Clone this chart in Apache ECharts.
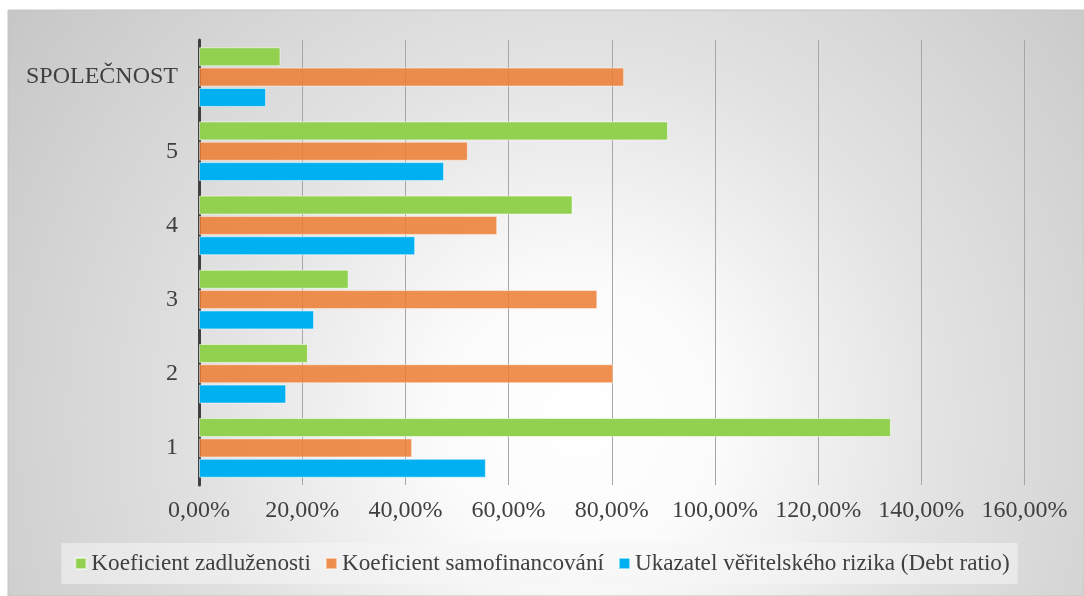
<!DOCTYPE html>
<html>
<head>
<meta charset="utf-8">
<script src="https://cdn.jsdelivr.net/npm/echarts@6/dist/echarts.min.js"></script>
<style>
  html, body { margin: 0; padding: 0; background: #fff; }
  #chart { width: 1084px; height: 596px; }
</style>
</head>
<body>
<div id="chart"></div>
<script>
const categories = ["1", "2", "3", "4", "5", "SPOLEČNOST"];
const seriesNames = [
   "Koeficient zadluženosti",
   "Koeficient samofinancování",
   "Ukazatel věřitelského rizika (Debt ratio)",
];
const zadluzenost = [134.1, 21.1, 29.0, 72.4, 90.9, 15.8];
const samofinancovani = [41.3, 80.3, 77.2, 57.8, 52.1, 82.4];
const debtRatio = [55.6, 16.9, 22.3, 41.9, 47.5, 13.0];
const xTicks = { min: 0, max: 160, interval: 20 };

const font = "'Liberation Serif', 'Times New Roman', serif";
const textColor = "#404040";

function pct(v) {
   return v.toFixed(2).replace(".", ",") + "%";
}

function barSeries(name, data, color, opacity) {
   return {
      name: name,
      type: "bar",
      data: data,
      barWidth: 19,
      barGap: "7%",
      itemStyle: {
         color: color,
         opacity: opacity,
         borderColor: "rgba(255,255,255,0.55)",
         borderWidth: 1,
      },
   };
}

const chart = echarts.init(document.getElementById("chart"));

chart.setOption({
   animation: false,
   graphic: [
      {
         type: "rect",
         z: -10,
         shape: { x: 8, y: 10, width: 1076, height: 586 },
         style: {
            fill: new echarts.graphic.RadialGradient(0.53, 0.7, 1.2, [
               { offset: 0, color: "#ffffff" },
               { offset: 0.2, color: "#fbfbfb" },
               { offset: 0.52, color: "#e2e2e2" },
               { offset: 1, color: "#c6c6c6" },
            ]),
            stroke: "#c4c4c4",
            lineWidth: 1,
         },
      },
   ],
   grid: {
      left: 199,
      right: 59.5,
      top: 40,
      bottom: 111,
   },
   legend: {
      data: seriesNames,
      left: "center",
      top: 543,
      icon: "rect",
      itemWidth: 11,
      itemHeight: 11,
      itemGap: 14,
      padding: [9, 8, 9, 13],
      backgroundColor: "rgba(245,245,245,0.55)",
      textStyle: { fontFamily: font, fontSize: 23.2, color: textColor },
   },
   xAxis: {
      type: "value",
      min: xTicks.min,
      max: xTicks.max,
      interval: xTicks.interval,
      axisLine: { show: false },
      axisTick: { show: false },
      axisLabel: {
         formatter: pct,
         fontFamily: font,
         fontSize: 24,
         color: textColor,
         margin: 14,
      },
      splitLine: { lineStyle: { color: "#a6a6a6", width: 1 } },
   },
   yAxis: {
      type: "category",
      data: categories,
      axisLine: { show: true, lineStyle: { color: "#404040", width: 3 } },
      axisTick: { show: false },
      axisLabel: {
         fontFamily: font,
         fontSize: 24,
         color: textColor,
         margin: 21,
      },
   },
   // first series sits on top of each group
   series: [
      barSeries(seriesNames[0], zadluzenost, "#92d050", 1),
      barSeries(seriesNames[1], samofinancovani, "#ed7d31", 0.85),
      barSeries(seriesNames[2], debtRatio, "#00b0f0", 1),
   ],
});
</script>
</body>
</html>
